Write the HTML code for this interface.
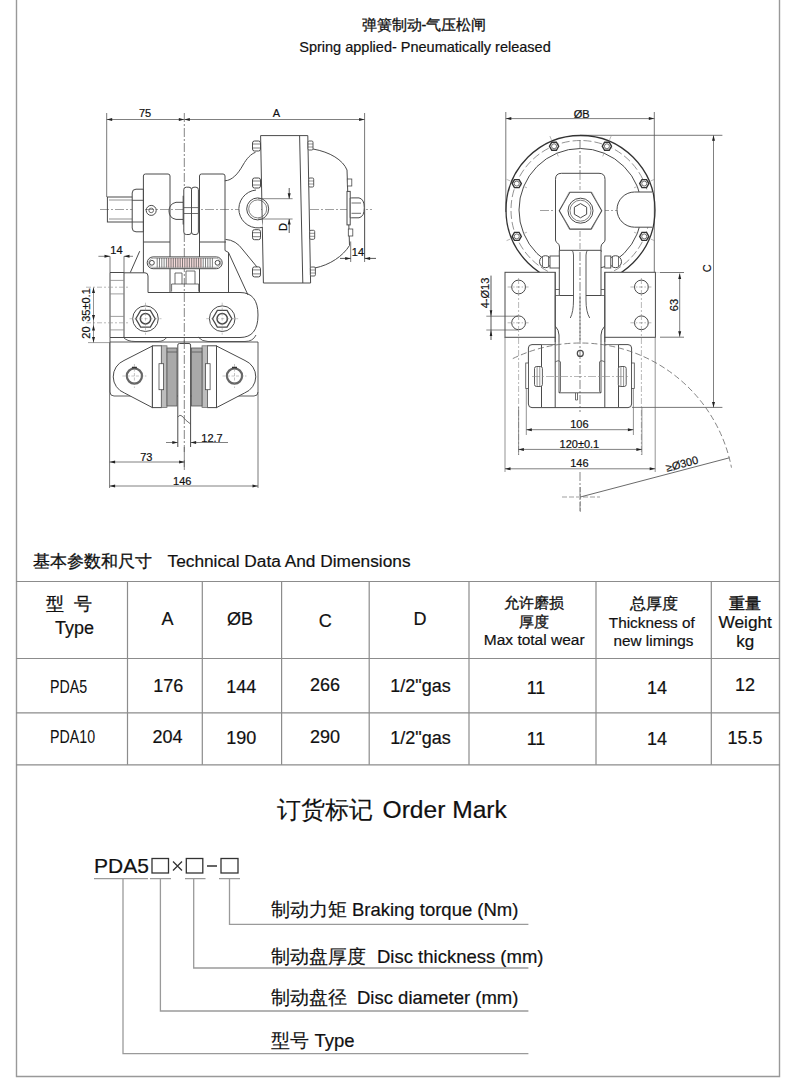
<!DOCTYPE html>
<html><head><meta charset="utf-8">
<style>
html,body{margin:0;padding:0;background:#fff;}
body{width:800px;height:1089px;overflow:hidden;position:relative;}
svg{position:absolute;left:0;top:0;}
text{font-family:"Liberation Sans",sans-serif;fill:#111;stroke:#111;stroke-width:0.2;}
.cn{stroke:#111;stroke-width:0.3;}
</style></head><body>
<svg width="800" height="1089" viewBox="0 0 800 1089">
<!-- page border -->
<g stroke="#999" stroke-width="1.4" fill="none">
<path d="M16.5 0V1076.5H779.5V0"/>
</g>
<!-- title -->
<text class="cn" x="424" y="29.5" font-size="14.5" text-anchor="middle">弹簧制动-气压松闸</text>
<text x="425" y="51.5" font-size="14.5" text-anchor="middle">Spring applied- Pneumatically released</text>

<!-- table heading -->
<text class="cn" x="33" y="567" font-size="17">基本参数和尺寸</text>
<text x="167.5" y="567" font-size="17.3">Technical Data And Dimensions</text>

<!-- table lines -->
<g stroke="#8c8c8c" stroke-width="1.2" fill="none">
<path d="M16 581.5H780M16 658.5H780M16 712.8H780M16 764.8H780"/>
<path d="M127.5 581.5V764.8M202.3 581.5V764.8M281.6 581.5V764.8M369.2 581.5V764.8M469 581.5V764.8M596 581.5V764.8M711.3 581.5V764.8"/>
</g>
<!-- table header -->
<text class="cn" x="45.5" y="610" font-size="17.5">型</text>
<text class="cn" x="83" y="610" font-size="17.5" text-anchor="middle">号</text>
<text x="74.5" y="634.2" font-size="18" text-anchor="middle">Type</text>
<text x="167.5" y="625.4" font-size="18" text-anchor="middle">A</text>
<text x="240" y="625.4" font-size="18" text-anchor="middle">ØB</text>
<text x="325.3" y="626.5" font-size="18" text-anchor="middle">C</text>
<text x="420" y="624.6" font-size="18" text-anchor="middle">D</text>
<text class="cn" x="534" y="608" font-size="15" text-anchor="middle">允许磨损</text>
<text class="cn" x="533.5" y="626.5" font-size="15" text-anchor="middle">厚度</text>
<text x="534.2" y="645.4" font-size="15.5" text-anchor="middle">Max total wear</text>
<text class="cn" x="653.5" y="608.5" font-size="16" text-anchor="middle">总厚度</text>
<text x="651.8" y="627.8" font-size="15.3" text-anchor="middle">Thickness of</text>
<text x="653.5" y="645.5" font-size="15.3" text-anchor="middle">new limings</text>
<text class="cn" x="745.2" y="608.5" font-size="16" text-anchor="middle" style="stroke-width:0.45">重量</text>
<text x="745.2" y="628.2" font-size="17.3" text-anchor="middle">Weight</text>
<text x="745.3" y="646.5" font-size="17" text-anchor="middle">kg</text>

<!-- rows -->
<g transform="translate(50,692.5) scale(0.79,1)"><text x="0" y="0" font-size="18" style="stroke:none">PDA5</text></g>
<g transform="translate(50,743) scale(0.79,1)"><text x="0" y="0" font-size="18" style="stroke:none">PDA10</text></g>
<text x="168.2" y="691.9" font-size="18" text-anchor="middle">176</text>
<text x="241.2" y="693" font-size="18" text-anchor="middle">144</text>
<text x="325.1" y="691" font-size="18" text-anchor="middle">266</text>
<text x="420.5" y="692" font-size="18" text-anchor="middle">1/2"gas</text>
<text x="536" y="694" font-size="18" text-anchor="middle">11</text>
<text x="657" y="694" font-size="18" text-anchor="middle">14</text>
<text x="745" y="691.2" font-size="18" text-anchor="middle">12</text>

<text x="167.5" y="742.9" font-size="18" text-anchor="middle">204</text>
<text x="241.2" y="744" font-size="18" text-anchor="middle">190</text>
<text x="325.1" y="743" font-size="18" text-anchor="middle">290</text>
<text x="420.5" y="744" font-size="18" text-anchor="middle">1/2"gas</text>
<text x="536" y="745.2" font-size="18" text-anchor="middle">11</text>
<text x="657" y="745.2" font-size="18" text-anchor="middle">14</text>
<text x="745" y="744" font-size="18" text-anchor="middle">15.5</text>

<!-- order mark -->
<text class="cn" style="stroke-width:0.15" x="277" y="818.3" font-size="24">订货标记</text>
<text x="382.5" y="818.3" font-size="24.6">Order Mark</text>
<text x="94" y="872.6" font-size="21">PDA5</text>
<g stroke="#333" stroke-width="1.3" fill="none">
<rect x="152" y="858.5" width="16.5" height="14.5"/>
<rect x="186.3" y="858.5" width="16.5" height="14.5"/>
<rect x="221" y="858.5" width="17" height="14.5"/>
<path d="M173 861.5L182 870.5M182 861.5L173 870.5M207 866H217"/>
</g>
<g stroke="#9a9a9a" stroke-width="1.3" fill="none">
<path d="M94 878.7H148M150 878.7H171M185 878.7H205.5M219 878.7H240"/>
<path d="M123 878.7V1053.7H528.4M160.4 878.7V1011H528.4M193.7 878.7V968H528.4M229.5 878.7V924.3H528.4"/>
</g>
<text class="cn" style="stroke-width:0.15" x="271" y="916.2" font-size="19">制动力矩</text><text x="351.9" y="916.2" font-size="18.5">Braking torque (Nm)</text>
<text class="cn" style="stroke-width:0.15" x="271" y="963" font-size="19">制动盘厚度</text><text x="377" y="963" font-size="18.5">Disc thickness (mm)</text>
<text class="cn" style="stroke-width:0.15" x="271" y="1004" font-size="19">制动盘径</text><text x="357" y="1004" font-size="18.5">Disc diameter (mm)</text>
<text class="cn" style="stroke-width:0.15" x="271" y="1047" font-size="19">型号</text><text x="314.5" y="1047" font-size="18.5">Type</text>

<!-- DRAWING -->
<g stroke="#4a4a4a" stroke-width="1" fill="none">
<path d="M106.7 113V197M364.6 113V258" stroke="#555" stroke-width="0.8"/>
<path d="M106.7 119.5H184.3" stroke="#555" stroke-width="0.75"/>
<path d="M106.70 119.50L112.20 118.00L112.20 121.00Z" fill="#222" stroke="none"/>
<path d="M184.30 119.50L178.80 121.00L178.80 118.00Z" fill="#222" stroke="none"/>
<path d="M184.3 119.5H364.6" stroke="#555" stroke-width="0.75"/>
<path d="M184.30 119.50L189.80 118.00L189.80 121.00Z" fill="#222" stroke="none"/>
<path d="M364.60 119.50L359.10 121.00L359.10 118.00Z" fill="#222" stroke="none"/>
<text x="145" y="117" font-size="11" text-anchor="middle" stroke="#222" stroke-width="0.2" fill="#222">75</text>
<text x="276.5" y="117" font-size="11" text-anchor="middle" stroke="#222" stroke-width="0.2" fill="#222">A</text>
<path d="M184.3 113V470" stroke="#666" stroke-width="0.8" stroke-dasharray="9 2 2 2"/>
<path d="M100 209.5H372" stroke="#777" stroke-width="0.7" stroke-dasharray="9 2 2 2"/>
<rect x="107.4" y="197" width="25.6" height="25"/>
<path d="M109 200H133M109 219H133" stroke-width="0.6"/>
<path d="M143.4 189.2H136Q132.2 189.2 132.2 193V228Q132.2 231.8 136 231.8H143.4Z" fill="#fff"/>
<path d="M132.2 200.3H143.4M132.2 222H143.4" stroke-width="0.9"/>
<path d="M143.4 272.8V176Q143.4 174 145.5 174H168Q170 174 170 176V292"/>
<path d="M143.4 242H170"/>
<circle cx="151.2" cy="210.4" r="5"/><circle cx="151.2" cy="210.4" r="2.3" stroke-width="0.8"/>
<path d="M183.3 202.3H176Q169 204 169 211Q169 218 176 219.4H183.3"/>
<path d="M183.3 195.7V224.6" stroke-width="1.3"/>
<rect x="183.8" y="187.2" width="7.7" height="47.3" rx="2.5" fill="#fff"/>
<rect x="191.5" y="187.2" width="6.9" height="47.3" rx="2.5" fill="#fff"/>
<path d="M183.8 207.6H198.4M183.8 213.5H198.4" stroke-width="0.8"/>
<path d="M199.5 292V176Q199.5 174 201.5 174H223Q225 174 225 176V250.5L228.5 252.5V293"/>
<path d="M199.5 242H226"/>
<path d="M139.7 251.2L130.3 272.5"/>
<path d="M228.5 252.5L248 295"/>
<path d="M225.5 239.4Q236 240 243 250L257 267"/>
<rect x="147.2" y="256.9" width="75" height="11.8" rx="5.9" fill="#fff"/>
<rect x="148.7" y="258.3" width="72" height="9" rx="4.5" stroke-width="0.6" stroke="#777"/>
<circle cx="151.9" cy="262.8" r="2.4"/><circle cx="217.5" cy="262.8" r="2.4"/>
<rect x="167" y="258.3" width="35" height="9" fill="#e8b0b0" fill-opacity="0.45" stroke="none"/>
<path d="M157.20 258V267.6M159.50 258V267.6M161.80 258V267.6M164.10 258V267.6M166.40 258V267.6M168.70 258V267.6M171.00 258V267.6M173.30 258V267.6M175.60 258V267.6M177.90 258V267.6M180.20 258V267.6M182.50 258V267.6M184.80 258V267.6M187.10 258V267.6M189.40 258V267.6M191.70 258V267.6M194.00 258V267.6M196.30 258V267.6M198.60 258V267.6M200.90 258V267.6M203.20 258V267.6M205.50 258V267.6M207.80 258V267.6M210.10 258V267.6M212.40 258V267.6" stroke-width="0.75" stroke="#555"/>
<path d="M171.6 291.6V284H198.7V291.6M175 284V273H182V284M186 284V271H195V284" stroke-width="0.8"/>
<path d="M110 272.5H124V337.5H110Z"/>
<path d="M110 280.4H124M110 293.9H124M110 316.4H124M110 329.9H124" stroke-width="0.8" stroke="#888"/>
<path d="M124 272.8H145Q148 272.8 148 276V292.5H240Q258 292.5 258 315Q258 337.5 240 337.5H124"/>
<circle cx="145.5" cy="318.7" r="12.8"/>
<polygon points="155.20,318.70 150.35,327.10 140.65,327.10 135.80,318.70 140.65,310.30 150.35,310.30" stroke-width="1.3"/>
<circle cx="145.5" cy="318.7" r="5.2" stroke-width="1.5"/>
<path d="M129.5 318.7H161.5M145.5 302.7V334.7" stroke="#888" stroke-width="0.5" stroke-dasharray="3 2"/>
<circle cx="222.2" cy="318.7" r="12.8"/>
<polygon points="231.90,318.70 227.05,327.10 217.35,327.10 212.50,318.70 217.35,310.30 227.05,310.30" stroke-width="1.3"/>
<circle cx="222.2" cy="318.7" r="5.2" stroke-width="1.5"/>
<path d="M206.2 318.7H238.2M222.2 302.7V334.7" stroke="#888" stroke-width="0.5" stroke-dasharray="3 2"/>
<path d="M110 337.5V342M110 342H258V392Q258 396 254 396H114Q110 396 110 392Z" stroke-width="0.9"/>
<path d="M123 337Q127 341.5 135 341.5H158Q164 341.5 167 337M198 337Q202 341.5 208 341.5H245Q253 341.5 256 335" stroke-width="0.9"/>
<path d="M152.4 346L124 360.5A17.5 17.5 0 0 0 124.5 393L152.4 407.6Z" fill="#fff"/>
<path d="M216.5 346L245 360.5A17.5 17.5 0 0 1 244.5 393L216.5 407.6Z" fill="#fff"/>
<rect x="152.4" y="345.8" width="9" height="61.8" fill="#fff"/>
<rect x="207.5" y="345.8" width="9" height="61.8" fill="#fff"/>
<rect x="161.4" y="345.8" width="5.6" height="61.8" fill="#bdbdbd" stroke="#666" stroke-width="0.7"/>
<rect x="202" y="345.8" width="5.5" height="61.8" fill="#bdbdbd" stroke="#666" stroke-width="0.7"/>
<rect x="167" y="348" width="10" height="58" fill="#a9a9a9" stroke="#555" stroke-width="0.8"/>
<rect x="191.5" y="348" width="10.5" height="58" fill="#a9a9a9" stroke="#555" stroke-width="0.8"/>
<path d="M167 352H177M191.5 352H202" stroke="#555" stroke-width="0.8"/>
<rect x="159" y="363.7" width="4.6" height="26" fill="#fff" stroke-width="0.8"/>
<rect x="205.5" y="363.7" width="4.6" height="26" fill="#fff" stroke-width="0.8"/>
<circle cx="134.4" cy="376" r="7.6" stroke="#666" stroke-width="2.2"/>
<path d="M131.9 367.5H136.9" stroke="#333" stroke-width="1.5"/>
<path d="M122.4 376H146.4M134.4 364V388" stroke="#888" stroke-width="0.5" stroke-dasharray="3 1.5"/>
<circle cx="234.5" cy="376" r="7.6" stroke="#666" stroke-width="2.2"/>
<path d="M232.0 367.5H237.0" stroke="#333" stroke-width="1.5"/>
<path d="M222.5 376H246.5M234.5 364V388" stroke="#888" stroke-width="0.5" stroke-dasharray="3 1.5"/>
<path d="M177.8 447V345Q177.8 343.5 179.5 343.5H189Q190.6 343.5 190.6 345V447" fill="#fff" stroke-width="1"/>
<path d="M177.8 417Q180 414 182 416Q186 421 190.6 424" stroke-width="0.8"/>
<path d="M184.3 340V470" stroke="#666" stroke-width="0.8" stroke-dasharray="9 2 2 2"/>
<path d="M109.6 342V488M258 392V488" stroke="#555" stroke-width="0.8"/>
<path d="M110 256.3V272.5M124 256.3V272.5" stroke="#555" stroke-width="0.8"/>
<path d="M98.4 256.3H110M124 256.3H133" stroke="#555" stroke-width="0.75"/>
<path d="M110.00 256.30L104.50 257.80L104.50 254.80Z" fill="#222" stroke="none"/>
<path d="M124.00 256.30L129.50 254.80L129.50 257.80Z" fill="#222" stroke="none"/>
<text x="116.4" y="254" font-size="11" text-anchor="middle" stroke="#222" stroke-width="0.2" fill="#222">14</text>
<path d="M86 287.2H128M86 322.8H128" stroke="#999" stroke-width="0.7" stroke-dasharray="5 2 2 2"/><path d="M88 342.6H110" stroke="#777" stroke-width="0.7"/>
<path d="M93.5 287.5V342.6" stroke="#666" stroke-width="0.7"/>
<path d="M93.50 287.50L95.00 293.00L92.00 293.00Z" fill="#222" stroke="none"/>
<path d="M93.50 320.50L92.00 315.00L95.00 315.00Z" fill="#222" stroke="none"/>
<path d="M93.50 325.00L95.00 330.50L92.00 330.50Z" fill="#222" stroke="none"/>
<path d="M93.50 342.60L92.00 337.10L95.00 337.10Z" fill="#222" stroke="none"/>
<text x="90" y="305" font-size="11" text-anchor="middle" stroke="#222" stroke-width="0.2" fill="#222" transform="rotate(-90 90 305)">35±0.1</text>
<text x="90" y="332.5" font-size="11" text-anchor="middle" stroke="#222" stroke-width="0.2" fill="#222" transform="rotate(-90 90 332.5)">20</text>
<path d="M166 442.5H177.8M190.6 442.5H228" stroke="#555" stroke-width="0.75"/>
<path d="M177.80 442.50L172.30 444.00L172.30 441.00Z" fill="#222" stroke="none"/>
<path d="M190.60 442.50L196.10 441.00L196.10 444.00Z" fill="#222" stroke="none"/>
<text x="212" y="441.5" font-size="11" text-anchor="middle" stroke="#222" stroke-width="0.2" fill="#222">12.7</text>
<path d="M109.6 462H184.6" stroke="#555" stroke-width="0.75"/>
<path d="M109.60 462.00L115.10 460.50L115.10 463.50Z" fill="#222" stroke="none"/>
<path d="M184.60 462.00L179.10 463.50L179.10 460.50Z" fill="#222" stroke="none"/>
<text x="146.3" y="460.8" font-size="11" text-anchor="middle" stroke="#222" stroke-width="0.2" fill="#222">73</text>
<path d="M109.6 486H258" stroke="#555" stroke-width="0.75"/>
<path d="M109.60 486.00L115.10 484.50L115.10 487.50Z" fill="#222" stroke="none"/>
<path d="M258.00 486.00L252.50 487.50L252.50 484.50Z" fill="#222" stroke="none"/>
<text x="182.3" y="484.5" font-size="11" text-anchor="middle" stroke="#222" stroke-width="0.2" fill="#222">146</text>
<path d="M260.6 135.6H307.8L310.6 283H263.4Z" fill="#fff"/>
<path d="M299.6 135.6L302.8 283"/>
<rect x="252.5" y="141" width="8" height="10" rx="2" fill="#fff"/>
<path d="M252.5 144H260.5M252.5 148H260.5" stroke-width="0.7"/>
<rect x="252.5" y="178" width="8" height="10" rx="2" fill="#fff"/>
<path d="M252.5 181H260.5M252.5 185H260.5" stroke-width="0.7"/>
<rect x="252.5" y="229.7" width="8" height="10" rx="2" fill="#fff"/>
<path d="M252.5 232.7H260.5M252.5 236.7H260.5" stroke-width="0.7"/>
<rect x="252.5" y="266.9" width="8" height="10" rx="2" fill="#fff"/>
<path d="M252.5 269.9H260.5M252.5 273.9H260.5" stroke-width="0.7"/>
<rect x="308.00" y="141.0" width="5" height="9" rx="1.2" fill="#fff" stroke-width="0.9"/>
<path d="M308.00 144.0h5M308.00 147.0h5" stroke-width="0.6"/>
<rect x="308.70" y="178.0" width="5" height="9" rx="1.2" fill="#fff" stroke-width="0.9"/>
<path d="M308.70 181.0h5M308.70 184.0h5" stroke-width="0.6"/>
<rect x="309.70" y="230.3" width="5" height="9" rx="1.2" fill="#fff" stroke-width="0.9"/>
<path d="M309.70 233.3h5M309.70 236.3h5" stroke-width="0.6"/>
<rect x="310.40" y="267.0" width="5" height="9" rx="1.2" fill="#fff" stroke-width="0.9"/>
<path d="M310.40 270.0h5M310.40 273.0h5" stroke-width="0.6"/>
<path d="M313 149C330 152 343 160 347 170L349.5 245.5C343 256 330 265 314.8 268"/>
<rect x="347.3" y="179" width="4.5" height="7" fill="#fff" stroke-width="0.8"/>
<rect x="348.3" y="229" width="4.5" height="7" fill="#fff" stroke-width="0.8"/>
<rect x="347" y="191.4" width="3.2" height="33.5" fill="#fff"/>
<path d="M350.2 198Q351 197.9 353 197.9H359Q364.3 199 364.3 207.8Q364.3 216.6 359 217.8H353Q351 217.8 350.2 217.8Z" fill="#fff"/>
<path d="M351.5 203H361M351.5 213.3H361" stroke-width="0.8"/>
<path d="M224.8 180.8C232 180.5 238 174 243 165C247 158 251 154 255.5 152.3" />
<path d="M256 190A19 19 0 1 0 263 227.2" fill="#fff"/>
<circle cx="257.7" cy="208.9" r="11"/><circle cx="257.7" cy="208.9" r="9" stroke-width="0.7"/>
<path d="M258 198.7H292.6M258 219H292.6" stroke="#555" stroke-width="0.7"/>
<path d="M289.2 188V198.7M289.2 219V233" stroke="#444" stroke-width="0.9"/>
<path d="M289.20 198.70L287.70 193.20L290.70 193.20Z" fill="#222" stroke="none"/>
<path d="M289.20 219.00L290.70 224.50L287.70 224.50Z" fill="#222" stroke="none"/>
<text x="287.5" y="226.9" font-size="11" text-anchor="middle" stroke="#222" stroke-width="0.2" fill="#222" transform="rotate(-90 287.5 226.9)">D</text>
<path d="M350.7 241.5V262M364.6 209V262" stroke="#555" stroke-width="0.8"/>
<path d="M340 258.4H350.7M364.6 258.4H376" stroke="#444" stroke-width="0.9"/>
<path d="M350.70 258.40L345.20 259.90L345.20 256.90Z" fill="#222" stroke="none"/>
<path d="M364.60 258.40L370.10 256.90L370.10 259.90Z" fill="#222" stroke="none"/>
<text x="357.9" y="256" font-size="11" text-anchor="middle" stroke="#222" stroke-width="0.2" fill="#222">14</text>
</g>
<g stroke="#4a4a4a" stroke-width="1" fill="none">
<path d="M505.8 112V212M654.3 112V272" stroke="#555" stroke-width="0.8"/>
<path d="M505.8 118.6H654.3" stroke="#555" stroke-width="0.75"/>
<path d="M505.80 118.60L511.30 117.10L511.30 120.10Z" fill="#222" stroke="none"/>
<path d="M654.30 118.60L648.80 120.10L648.80 117.10Z" fill="#222" stroke="none"/>
<text x="581.6" y="117.5" font-size="11" text-anchor="middle" stroke="#222" stroke-width="0.2" fill="#222">ØB</text>
<path d="M580 135.3H722.4M632 407.4H722.4" stroke="#555" stroke-width="0.8"/>
<path d="M713.5 135.3V407.4" stroke="#555" stroke-width="0.75"/>
<path d="M713.50 135.30L715.00 140.80L712.00 140.80Z" fill="#222" stroke="none"/>
<path d="M713.50 407.40L712.00 401.90L715.00 401.90Z" fill="#222" stroke="none"/>
<text x="711.5" y="268.2" font-size="11" text-anchor="middle" stroke="#222" stroke-width="0.2" fill="#222" transform="rotate(-90 711.5 268.2)">C</text>
<path d="M655.4 272.5H684M655.4 337.2H684" stroke="#555" stroke-width="0.8"/>
<path d="M679.7 273.5V336.8" stroke="#555" stroke-width="0.75"/>
<path d="M679.70 273.50L681.20 279.00L678.20 279.00Z" fill="#222" stroke="none"/>
<path d="M679.70 336.80L678.20 331.30L681.20 331.30Z" fill="#222" stroke="none"/>
<text x="677.5" y="305" font-size="11" text-anchor="middle" stroke="#222" stroke-width="0.2" fill="#222" transform="rotate(-90 677.5 305)">63</text>
<circle cx="580.5" cy="210" r="74.5" stroke="#333" stroke-width="1.3"/>
<circle cx="580.5" cy="210" r="69.5" stroke="#777" stroke-width="0.8" stroke-dasharray="8 3"/>
<circle cx="580.5" cy="210" r="61.5" stroke-width="1"/>
<rect x="500" y="272.3" width="160" height="70" fill="#fff" stroke="none"/>
<path d="M526.91 187.80L505.67 179.00" stroke="#888" stroke-width="0.6" stroke-dasharray="4 2"/>
<polygon points="521.35,183.59 519.05,187.58 514.45,187.58 512.15,183.59 514.45,179.61 519.05,179.61" fill="#fff" stroke-width="1.4" stroke="#333"/>
<circle cx="516.75" cy="183.59" r="2.5" stroke-width="0.8"/>
<path d="M558.30 156.41L549.50 135.17" stroke="#888" stroke-width="0.6" stroke-dasharray="4 2"/>
<polygon points="558.69,146.25 556.39,150.24 551.79,150.24 549.49,146.25 551.79,142.27 556.39,142.27" fill="#fff" stroke-width="1.4" stroke="#333"/>
<circle cx="554.09" cy="146.25" r="2.5" stroke-width="0.8"/>
<path d="M602.70 156.41L611.50 135.17" stroke="#888" stroke-width="0.6" stroke-dasharray="4 2"/>
<polygon points="611.51,146.25 609.21,150.24 604.61,150.24 602.31,146.25 604.61,142.27 609.21,142.27" fill="#fff" stroke-width="1.4" stroke="#333"/>
<circle cx="606.91" cy="146.25" r="2.5" stroke-width="0.8"/>
<path d="M634.09 187.80L655.33 179.00" stroke="#888" stroke-width="0.6" stroke-dasharray="4 2"/>
<polygon points="648.85,183.59 646.55,187.58 641.95,187.58 639.65,183.59 641.95,179.61 646.55,179.61" fill="#fff" stroke-width="1.4" stroke="#333"/>
<circle cx="644.25" cy="183.59" r="2.5" stroke-width="0.8"/>
<path d="M634.09 232.20L655.33 241.00" stroke="#888" stroke-width="0.6" stroke-dasharray="4 2"/>
<polygon points="648.85,236.41 646.55,240.39 641.95,240.39 639.65,236.41 641.95,232.42 646.55,232.42" fill="#fff" stroke-width="1.4" stroke="#333"/>
<circle cx="644.25" cy="236.41" r="2.5" stroke-width="0.8"/>
<path d="M526.91 232.20L505.67 241.00" stroke="#888" stroke-width="0.6" stroke-dasharray="4 2"/>
<polygon points="521.35,236.41 519.05,240.39 514.45,240.39 512.15,236.41 514.45,232.42 519.05,232.42" fill="#fff" stroke-width="1.4" stroke="#333"/>
<circle cx="516.75" cy="236.41" r="2.5" stroke-width="0.8"/>
<path d="M580 140V412M580 472V512" stroke="#666" stroke-width="0.8" stroke-dasharray="9 2 2 2"/>
<path d="M540 210.5H622" stroke="#777" stroke-width="0.7" stroke-dasharray="9 2 2 2"/>
<path d="M652.3 192H634.6A17.6 17.6 0 0 0 634.6 227.2H652.3" fill="#fff"/>
<path d="M559.5 252V247Q559.5 244.5 557.5 243Q555.5 242 555.5 240V179.3Q555.5 173.3 561.5 173.3H599Q605 173.3 605 179.3V240Q605 242 603 243Q601 244.5 601 247V252" fill="#fff"/>
<polygon points="601.75,210.70 591.12,229.10 569.88,229.10 559.25,210.70 569.88,192.30 591.12,192.30" stroke-width="1.1"/>
<path d="M563 204L569 192M563 217L569 229M598 204L592 192M598 217L592 229" stroke-width="0.5" stroke="#999"/>
<circle cx="580.5" cy="210.7" r="12.5"/><circle cx="580.5" cy="210.7" r="10.5" stroke-width="0.7"/>
<polygon points="586.65,214.25 580.50,217.80 574.35,214.25 574.35,207.15 580.50,203.60 586.65,207.15"/>
<path d="M580 174V190M580 231V252" stroke="#777" stroke-width="0.7" stroke-dasharray="6 2 2 2"/>
<rect x="559.3" y="250.3" width="41.7" height="45.2" fill="#fff" stroke="none"/>
<path d="M559.3 250.3H601M559.3 250.3V295.5H573.3M601 250.3V295.5H586"/>
<path d="M580 252V342" stroke="#666" stroke-width="0.8" stroke-dasharray="9 2 2 2"/>
<path d="M571.5 250.3Q573.5 251 573.5 255V300Q573.5 312 570.3 318M588 250.3Q586 251 586 255V300Q586 312 589.7 318" stroke-width="0.9"/>
<path d="M555.2 272V295.5H559.3M604.8 272V295.5H601M555.2 289.5H559.3M604.8 289.5H601" stroke-width="0.8"/>
<path d="M555.2 295.5V326Q559 330 559 335V342M604.8 295.5V326Q601 330 601 335V342" />
<path d="M555.2 326V342M604.8 326V342" stroke-width="0.8"/>
<rect x="505" y="272.3" width="50.2" height="65" fill="none"/>
<rect x="604.8" y="272.3" width="50.6" height="65" fill="none"/>
<circle cx="518.6" cy="287" r="6.9"/>
<path d="M507.6 287H529.6" stroke="#888" stroke-width="0.6" stroke-dasharray="4 1.5 1.5 1.5"/>
<circle cx="518.6" cy="322.8" r="6.9"/>
<path d="M507.6 322.8H529.6" stroke="#888" stroke-width="0.6" stroke-dasharray="4 1.5 1.5 1.5"/>
<circle cx="641.4" cy="287" r="6.9"/>
<path d="M630.4 287H652.4" stroke="#888" stroke-width="0.6" stroke-dasharray="4 1.5 1.5 1.5"/>
<circle cx="641.4" cy="322.8" r="6.9"/>
<path d="M630.4 322.8H652.4" stroke="#888" stroke-width="0.6" stroke-dasharray="4 1.5 1.5 1.5"/>
<path d="M518.6 278V455M641.4 278V455" stroke="#888" stroke-width="0.6" stroke-dasharray="6 2 2 2"/>
<circle cx="545.5" cy="261.7" r="6" fill="#fff"/>
<path d="M542.5 257V266.5M548.5 257V266.5" stroke-width="0.8"/>
<rect x="550" y="256" width="9.3" height="12" fill="#fff" stroke-width="0.9"/>
<circle cx="615.5" cy="261.7" r="6" fill="#fff"/>
<path d="M612.5 257V266.5M618.5 257V266.5" stroke-width="0.8"/>
<rect x="604.8" y="256" width="6" height="12" fill="#fff" stroke-width="0.9"/>
<path d="M486.3 316.2H518M486.3 330H518" stroke="#555" stroke-width="0.7"/>
<path d="M491 275.6V340" stroke="#444" stroke-width="0.9"/>
<path d="M491.00 316.20L489.70 310.20L492.30 310.20Z" fill="#222" stroke="none"/>
<path d="M491.00 330.00L492.30 336.00L489.70 336.00Z" fill="#222" stroke="none"/>
<text x="488.5" y="293" font-size="11" text-anchor="middle" stroke="#222" stroke-width="0.2" fill="#222" transform="rotate(-90 488.5 293)">4-Ø13</text>
<path d="M528.4 348Q528.4 344.6 532 344.6H541.5V407.6H532Q528.4 407.6 528.4 404Z"/>
<path d="M631.6 348Q631.6 344.6 628 344.6H618.5V407.6H628Q631.6 407.6 631.6 404Z"/>
<path d="M541.5 407.6H618.5M555.2 337V407.6M604.8 337V407.6"/>
<path d="M555.2 344.6H541.5M604.8 344.6H618.5" stroke-width="0.8"/>
<path d="M559 342V392.8H601V342" stroke-width="0.9"/>
<path d="M555.2 362Q559 359.5 560.5 362V390Q560.5 392.8 559 392.8M604.8 362Q601 359.5 599.5 362V390Q599.5 392.8 601 392.8" stroke-width="0.8"/>
<circle cx="580.3" cy="353.4" r="3" stroke-width="1.2"/>
<path d="M575.5 393V400H577.5V393" stroke-width="0.8"/>
<rect x="534.5" y="366.5" width="7.9" height="20" rx="2" fill="#fff" stroke-width="0.9"/>
<path d="M537.1 366.5V386.5M539.8 366.5V386.5" stroke-width="0.6"/>
<rect x="618.3" y="366.5" width="7.9" height="20" rx="2" fill="#fff" stroke-width="0.9"/>
<path d="M620.9 366.5V386.5M623.5999999999999 366.5V386.5" stroke-width="0.6"/>
<rect x="525.75" y="363" width="2.7" height="25.4" fill="#fff" stroke-width="0.8"/>
<rect x="631.6" y="363" width="2.7" height="25.4" fill="#fff" stroke-width="0.8"/>
<path d="M532 376.5H629" stroke="#888" stroke-width="0.6" stroke-dasharray="8 2 2 2"/>
<path d="M512.79 358.59A154 154 0 0 1 731.47 467.62" stroke="#666" stroke-width="0.8" stroke-dasharray="6 3"/>
<path d="M526.3 388V435M633.4 388V435M518.6 407V455M641.9 407V455M505 337V472M655.2 337V472" stroke="#666" stroke-width="0.7"/>
<path d="M526.3 429.7H633.4" stroke="#555" stroke-width="0.75"/>
<path d="M526.30 429.70L531.80 428.20L531.80 431.20Z" fill="#222" stroke="none"/>
<path d="M633.40 429.70L627.90 431.20L627.90 428.20Z" fill="#222" stroke="none"/>
<text x="579.4" y="427.5" font-size="11" text-anchor="middle" stroke="#222" stroke-width="0.2" fill="#222">106</text>
<path d="M518.4 449.4H641.9" stroke="#555" stroke-width="0.75"/>
<path d="M518.40 449.40L523.90 447.90L523.90 450.90Z" fill="#222" stroke="none"/>
<path d="M641.90 449.40L636.40 450.90L636.40 447.90Z" fill="#222" stroke="none"/>
<text x="579.4" y="447.5" font-size="11" text-anchor="middle" stroke="#222" stroke-width="0.2" fill="#222">120±0.1</text>
<path d="M505 468.8H655.2" stroke="#555" stroke-width="0.75"/>
<path d="M505.00 468.80L510.50 467.30L510.50 470.30Z" fill="#222" stroke="none"/>
<path d="M655.20 468.80L649.70 470.30L649.70 467.30Z" fill="#222" stroke="none"/>
<text x="579.4" y="466.5" font-size="11" text-anchor="middle" stroke="#222" stroke-width="0.2" fill="#222">146</text>
<path d="M562 497H600M580.3 487V512" stroke="#777" stroke-width="0.7" stroke-dasharray="5 2"/>
<path d="M580.3 497L729.4 457.8" stroke="#444" stroke-width="0.8"/>
<text x="683" y="467.5" font-size="11" text-anchor="middle" stroke="#222" stroke-width="0.2" fill="#222" transform="rotate(-14.73 683 467.5)">≥Ø300</text>
</g>
</svg>
</body></html>
